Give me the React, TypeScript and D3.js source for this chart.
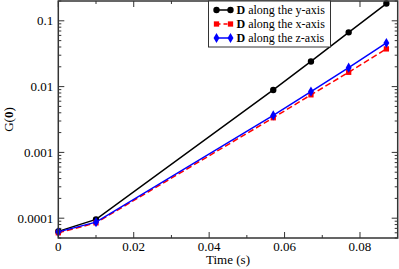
import React, { useRef, useEffect } from 'react';
import * as d3 from 'd3';

// Data
const timeValues = [0, 0.01, 0.057, 0.067, 0.077, 0.087];
const gAlongY = [6.3e-5, 9.6e-5, 0.0089, 0.0241, 0.0668, 0.183];
const gAlongX = [6.0e-5, 8.5e-5, 0.00336, 0.0075, 0.0165, 0.0374];
const gAlongZ = [6.2e-5, 8.7e-5, 0.00365, 0.0084, 0.0194, 0.046];
const seriesNames = ['along the y-axis', 'along the x-axis', 'along the z-axis'];
const xTickValues = [0, 0.02, 0.04, 0.06, 0.08];
const xTickLabels = ['0', '0.02', '0.04', '0.06', '0.08'];
const yTickValues = [0.0001, 0.001, 0.01, 0.1];
const yTickLabels = ['0.0001', '0.001', '0.01', '0.1'];

const W = 399;
const H = 269;
const plot = { left: 58.3, right: 397.7, top: 1, bottom: 238 };
const FONT = '"Liberation Serif", "Times New Roman", serif';

export default function App() {
  const svgRef = useRef(null);

  useEffect(() => {
    const svg = d3.select(svgRef.current);
    svg.selectAll('*').remove();

    const x = d3.scaleLinear().domain([0, 0.09]).range([plot.left, plot.right]);
    const y = d3.scaleLog().domain([5e-5, 0.2]).range([plot.bottom, plot.top]);

    svg.append('rect').attr('width', W).attr('height', H).attr('fill', 'white');

    // log minor ticks
    const minorY: number[] = [];
    for (let e = -5; e <= -1; e++) {
      for (let m = 2; m <= 9; m++) {
        const v = m * Math.pow(10, e);
        if (v >= 5e-5 && v <= 0.2) minorY.push(v);
      }
    }
    const minorX = [0.01, 0.03, 0.05, 0.07];

    const axisColor = '#333';
    const ticks = svg.append('g').attr('stroke', axisColor).attr('stroke-width', 1);
    const addYTicks = (vals: number[], len: number) => {
      vals.forEach((v) => {
        ticks.append('line').attr('x1', plot.left).attr('x2', plot.left + len)
          .attr('y1', y(v)).attr('y2', y(v));
        ticks.append('line').attr('x1', plot.right).attr('x2', plot.right - len)
          .attr('y1', y(v)).attr('y2', y(v));
      });
    };
    const addXTicks = (vals: number[], len: number) => {
      vals.forEach((v) => {
        ticks.append('line').attr('x1', x(v)).attr('x2', x(v))
          .attr('y1', plot.bottom).attr('y2', plot.bottom - len);
        ticks.append('line').attr('x1', x(v)).attr('x2', x(v))
          .attr('y1', plot.top).attr('y2', plot.top + len);
      });
    };
    addYTicks(yTickValues, 6);
    addYTicks(minorY, 3);
    addXTicks(xTickValues, 6);
    addXTicks(minorX, 3);

    // tick labels
    svg.append('g').selectAll('text').data(yTickValues).join('text')
      .attr('x', plot.left - 5)
      .attr('y', (d) => y(d))
      .attr('dy', '0.35em')
      .attr('text-anchor', 'end')
      .attr('font-family', FONT)
      .attr('font-size', 13)
      .text((d, i) => yTickLabels[i]);

    svg.append('g').selectAll('text').data(xTickValues).join('text')
      .attr('x', (d) => x(d))
      .attr('y', plot.bottom + 12.5)
      .attr('text-anchor', 'middle')
      .attr('font-family', FONT)
      .attr('font-size', 13)
      .text((d, i) => xTickLabels[i]);

    // axis titles
    svg.append('text')
      .attr('x', (plot.left + plot.right) / 2)
      .attr('y', 264)
      .attr('text-anchor', 'middle')
      .attr('font-family', FONT)
      .attr('font-size', 13)
      .text('Time (s)');

    const yl = svg.append('text')
      .attr('transform', `translate(12.5, ${(plot.top + plot.bottom) / 2}) rotate(-90)`)
      .attr('text-anchor', 'middle')
      .attr('font-family', FONT)
      .attr('font-size', 13);
    yl.append('tspan').text('G(');
    yl.append('tspan').attr('font-weight', 'bold').text('0');
    yl.append('tspan').text(')');

    // series
    const series = [
      { values: gAlongY, color: '#000000', dash: null, marker: 'circle' },
      { values: gAlongX, color: '#ff0000', dash: '6,3', marker: 'square' },
      { values: gAlongZ, color: '#0000ff', dash: null, marker: 'diamond' },
    ];

    const line = d3.line<number>()
      .x((d, i) => x(timeValues[i]))
      .y((d) => y(d));

    const symbolFor = (m: string) =>
      m === 'circle'
        ? d3.symbol().type(d3.symbolCircle).size(32)
        : m === 'square'
        ? d3.symbol().type(d3.symbolSquare).size(28)
        : d3.symbol().type(d3.symbolDiamond).size(30);

    series.forEach((s) => {
      svg.append('path')
        .datum(s.values)
        .attr('d', line)
        .attr('fill', 'none')
        .attr('stroke', s.color)
        .attr('stroke-width', 1.5)
        .attr('stroke-dasharray', s.dash);
      svg.append('g').selectAll('path').data(s.values).join('path')
        .attr('transform', (d, i) => `translate(${x(timeValues[i])},${y(d)})`)
        .attr('d', symbolFor(s.marker))
        .attr('fill', s.color);
    });

    // frame
    svg.append('rect')
      .attr('x', plot.left)
      .attr('y', plot.top)
      .attr('width', plot.right - plot.left)
      .attr('height', plot.bottom - plot.top)
      .attr('fill', 'none')
      .attr('stroke', axisColor)
      .attr('stroke-width', 1.5);

    // legend
    const lg = svg.append('g');
    lg.append('rect')
      .attr('x', 208.5).attr('y', 1).attr('width', 122).attr('height', 46)
      .attr('fill', 'white').attr('stroke', axisColor).attr('stroke-width', 1);
    series.forEach((s, i) => {
      const ly = 10 + i * 14;
      lg.append('line')
        .attr('x1', 216.5).attr('x2', 230.5).attr('y1', ly).attr('y2', ly)
        .attr('stroke', s.color).attr('stroke-width', 1.5)
        .attr('stroke-dasharray', s.dash ? '4,3' : null);
      [216.5, 230.5].forEach((mx) => {
        lg.append('path')
          .attr('transform', `translate(${mx},${ly})`)
          .attr('d', symbolFor(s.marker))
          .attr('fill', s.color);
      });
      const t = lg.append('text')
        .attr('x', 236.5).attr('y', ly).attr('dy', '0.35em')
        .attr('font-family', FONT).attr('font-size', 12);
      t.append('tspan').attr('font-weight', 'bold').text('D');
      t.append('tspan').text(' ' + seriesNames[i]);
    });
  }, []);

  return (
    <svg
      ref={svgRef}
      width={W}
      height={H}
      style={{ position: 'absolute', left: 0, top: 0, display: 'block' }}
    />
  );
}
